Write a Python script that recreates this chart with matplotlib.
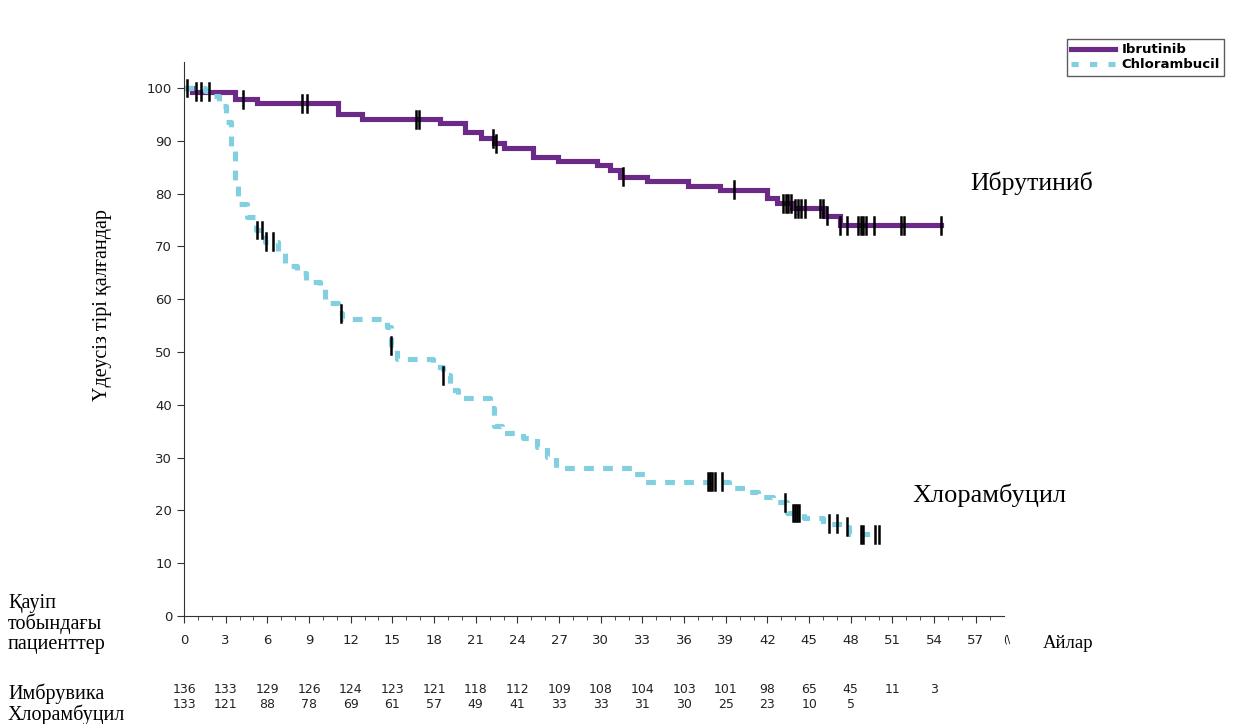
import numpy as np
import matplotlib.pyplot as plt
from matplotlib.lines import Line2D

# Kaplan-Meier steps: (month, percent surviving without progression)
ibr_t = [0, 0.6, 3.7, 5.25, 11.1, 12.8, 18.4, 20.2, 21.4, 22.3, 23.0, 25.1, 26.9,
         29.7, 30.7, 31.4, 33.3, 36.3, 38.6, 41.95, 42.7, 43.8, 46.1, 47.2, 54.5]
ibr_s = [100, 99.3, 97.9, 97.1, 95.0, 94.1, 93.3, 91.7, 90.5, 89.5, 88.6, 86.9, 86.2,
         85.4, 84.5, 83.2, 82.4, 81.5, 80.7, 79.1, 78.2, 77.2, 75.8, 74.0, 74.0]
ibr_cens = [0.2, 0.86, 1.2, 1.8, 4.27, 8.47, 8.88, 16.7, 16.95, 22.27, 22.46, 31.6,
            39.6, 43.1, 43.3, 43.5, 43.7, 44.0, 44.2, 44.4, 44.7, 45.8, 46.0, 46.3,
            47.2, 47.7, 48.5, 48.7, 48.9, 49.1, 49.7, 51.6, 51.8, 54.5]

chl_t = [0, 1.5, 2.0, 2.5, 3.0, 3.4, 3.7, 3.9, 4.5, 5.2, 5.8, 6.8, 7.3, 8.1, 8.8,
         9.8, 10.15, 11.1, 11.4, 14.6, 14.9, 15.3, 17.9, 18.65, 19.15, 19.7, 22.0,
         22.3, 22.9, 24.4, 25.4, 26.1, 26.8, 32.3, 33.2, 39.2, 40.4, 41.3, 42.4,
         43.4, 44.6, 46.0, 47.5, 47.9, 49.9]
chl_s = [100, 99.5, 98.5, 96.5, 93.5, 88.5, 82.0, 78.1, 75.6, 73.1, 70.9, 69.0,
         66.2, 64.9, 63.3, 61.9, 59.2, 57.3, 56.25, 54.8, 51.3, 48.7, 47.2, 45.6,
         42.8, 41.2, 39.4, 35.9, 34.6, 33.7, 32.1, 30.2, 28.0, 26.8, 25.4, 24.3,
         23.4, 22.5, 21.5, 19.5, 18.5, 17.5, 16.9, 15.5, 15.5]
chl_cens = [5.23, 5.64, 5.9, 6.43, 11.3, 14.9, 18.67, 37.75, 37.85, 38.0, 38.2,
            38.7, 43.27, 43.85, 44.0, 44.15, 44.3, 46.4, 47.0, 47.7, 48.75, 48.85,
            49.75, 50.0]

risk_months = [0, 3, 6, 9, 12, 15, 18, 21, 24, 27, 30, 33, 36, 39, 42, 45, 48, 51, 54]
risk_ibr = [136, 133, 129, 126, 124, 123, 121, 118, 112, 109, 108, 104, 103, 101,
            98, 65, 45, 11, 3]
risk_chl = [133, 121, 88, 78, 69, 61, 57, 49, 41, 33, 33, 31, 30, 25, 23, 10, 5,
            None, None]

purple = '#6b2a87'
cyan = '#82cfe0'
serif = 'Liberation Serif'

fig = plt.figure(figsize=(12.34, 7.24), dpi=100)
ax = fig.add_axes([0.1491, 0.1492, 0.6642, 0.7657])


def surv_at(t, ts, ss):
    idx = np.searchsorted(ts, t, side='right') - 1
    return ss[max(idx, 0)]


ax.step(ibr_t, ibr_s, where='post', color=purple, lw=3.7, solid_joinstyle='miter')
ax.step(chl_t, chl_s, where='post', color=cyan, lw=3.7, linestyle=(0, (1.9, 1.8)))

# censoring marks
for c in ibr_cens:
    y = surv_at(c, ibr_t, ibr_s)
    ax.plot([c, c], [y - 1.6, y + 1.6], color='black', lw=1.8)
for c in chl_cens:
    y = surv_at(c, chl_t, chl_s)
    ax.plot([c, c], [y - 1.6, y + 1.6], color='black', lw=1.8)

ax.set_xlim(0, 59)
ax.set_ylim(0, 105)
ax.set_xticks(np.arange(0, 58, 3))
ax.set_xticks(np.arange(0, 59, 1), minor=True)
ax.set_yticks(np.arange(0, 101, 10))
for s in ['top', 'right']:
    ax.spines[s].set_visible(False)
for s in ['left', 'bottom']:
    ax.spines[s].set_color('#333333')
ax.tick_params(axis='both', which='major', labelsize=9.5, length=5, color='#333333',
               labelcolor='#222222')
ax.tick_params(axis='x', which='major', pad=8)
ax.tick_params(axis='x', which='minor', length=3, color='#333333')

fig.text(103 / 1234, 1 - 305 / 724, 'Үдеусіз тірі қалғандар', family=serif,
         fontsize=14.5, rotation=90, va='center', ha='center')

fig.text(970 / 1234, 1 - 183 / 724, 'Ибрутиниб', family=serif, fontsize=18.5,
         va='center', ha='left')
fig.text(912 / 1234, 1 - 495 / 724, 'Хлорамбуцил', family=serif, fontsize=19,
         va='center', ha='left')
fig.text(1043 / 1234, 1 - 644 / 724, 'Айлар', family=serif, fontsize=13.5,
         va='center', ha='left')
fig.text(1003 / 1234, 1 - 640 / 724, '(\\', fontsize=7, va='center', ha='left')

fig.text(8 / 1234, 1 - 624 / 724, 'Қауіп\nтобындағы\nпациенттер', family=serif,
         fontsize=14.5, va='center', ha='left', linespacing=1.05)
fig.text(8 / 1234, 1 - 694 / 724, 'Имбрувика', family=serif, fontsize=14.5,
         va='center', ha='left')
fig.text(8 / 1234, 1 - 715 / 724, 'Хлорамбуцил', family=serif, fontsize=14.5,
         va='center', ha='left')

# numbers at risk
for m, a, b in zip(risk_months, risk_ibr, risk_chl):
    ax.text(m, -13.9, str(a), fontsize=9, ha='center', va='center', color='#222222')
    if b is not None:
        ax.text(m, -16.7, str(b), fontsize=9, ha='center', va='center',
                color='#222222')

handles = [Line2D([], [], color=purple, lw=3.7),
           Line2D([], [], color=cyan, lw=3.7, linestyle=(0, (1.4, 2.2)))]
leg = fig.legend(handles, ['Ibrutinib', 'Chlorambucil'], loc='upper right',
                 bbox_to_anchor=(1231 / 1234, 1 - 32 / 724), fontsize=9.5,
                 frameon=True, fancybox=False, handlelength=3.3, borderpad=0.35,
                 labelspacing=0.15, handletextpad=0.5)
leg.get_frame().set_edgecolor('#333333')
leg.get_frame().set_linewidth(1)
for t in leg.get_texts():
    t.set_fontweight('bold')

fig.savefig('out.png', dpi=100)
